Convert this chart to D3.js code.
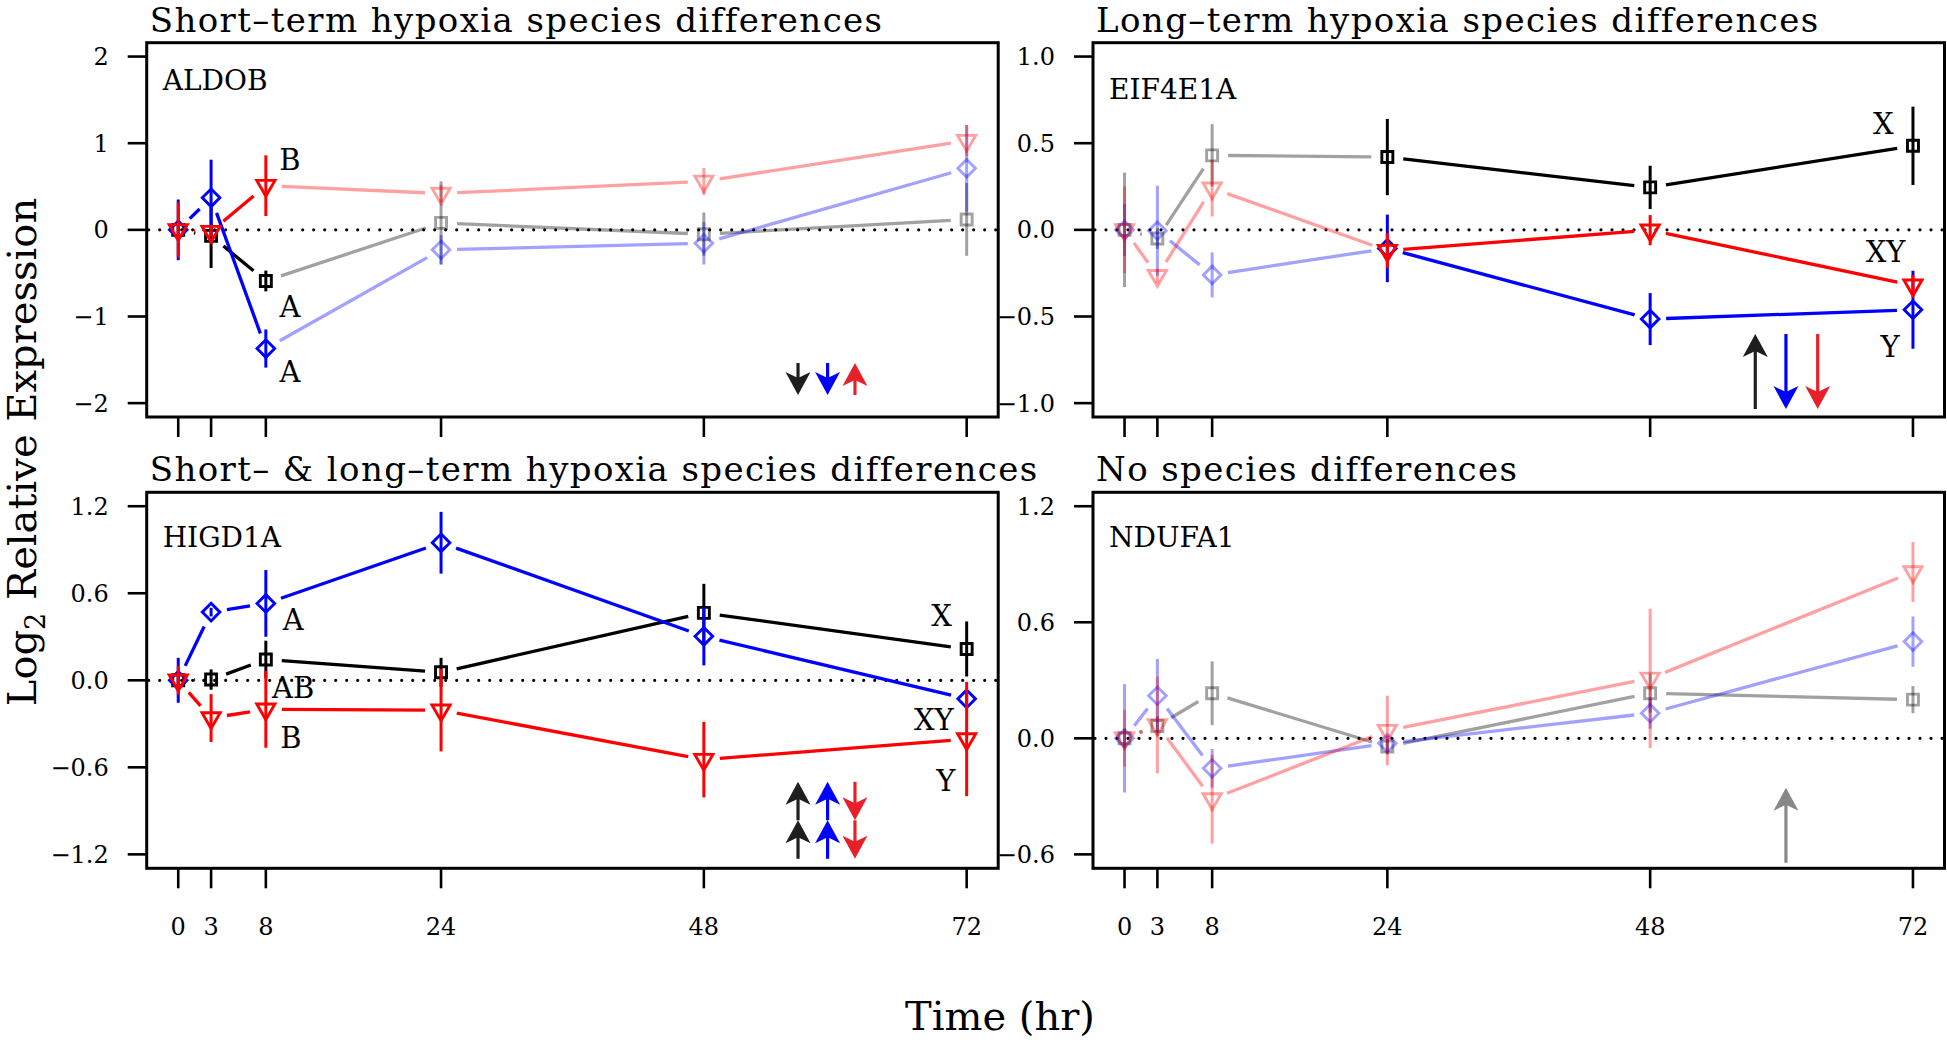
<!DOCTYPE html>
<html>
<head>
<meta charset="utf-8">
<script src="https://cdn.jsdelivr.net/npm/d3@7"></script>
<style>
body { margin: 0; background: #fff; }
svg { display: block; }
text { font-family: "DejaVu Serif", serif; fill: #000; }
</style>
</head>
<body>
<div class="chart"></div>
<script>
var width = 1947, height = 1044

// time points (hr)
var hours = [0, 3, 8, 24, 48, 72]

// series order: black squares, blue diamonds, red triangles
var seriesColor = ["#000000", "#0000ff", "#ff0000"]
var seriesShape = ["square", "diamond", "triangle"]

var titles = [
    "Short\u2013term hypoxia species differences",
    "Long\u2013term hypoxia species differences",
    "Short\u2013 & long\u2013term hypoxia species differences",
    "No species differences"
]
var genes = ["ALDOB", "EIF4E1A", "HIGD1A", "NDUFA1"]

// ALDOB
var aldobMean = [
    [0, -0.07, -0.59, 0.08, -0.05, 0.12],
    [0, 0.37, -1.37, -0.23, -0.155, 0.71],
    [0, -0.02, 0.51, 0.42, 0.56, 1.03]
]
var aldobSE = [
    [0.1, 0.37, 0.12, 0.48, 0.25, 0.42],
    [0.35, 0.44, 0.22, 0.17, 0.245, 0.5],
    [0.32, 0.06, 0.35, 0.1, 0.155, 0.18]
]
var aldobSig = [1, 1, 1, 0, 0, 0]
var aldobTicks = [-2, -1, 0, 1, 2]
var aldobLetters = [["B", 10.2, 0.815], ["A", 10.2, -0.88], ["A", 10.2, -1.64]]
var aldobArrows = [[0, -1, 56.6], [1, -1, 59.3], [2, 1, 61.8]]

// EIF4E1A
var eifMean = [
    [0, -0.05, 0.43, 0.42, 0.245, 0.485],
    [0, -0.005, -0.26, -0.107, -0.515, -0.461],
    [0, -0.265, 0.24, -0.12, -0.002, -0.32]
]
var eifSE = [
    [0.33, 0.06, 0.18, 0.22, 0.125, 0.226],
    [0.15, 0.26, 0.13, 0.195, 0.15, 0.225],
    [0.25, 0.04, 0.163, 0.1, 0.087, 0.06]
]
var eifSig = [0, 0, 0, 1, 1, 1]
var eifTicks = [-1, -0.5, 0, 0.5, 1]
var eifLetters = [["X", 69.3, 0.612], ["XY", 69.5, -0.126], ["Y", 69.9, -0.674]]
var eifArrows = [[0, 1, 57.6], [1, -1, 60.4], [2, -1, 63.3]]

// HIGD1A
var higdMean = [
    [0, 0.005, 0.143, 0.055, 0.465, 0.216],
    [0, 0.47, 0.53, 0.948, 0.303, -0.128],
    [0, -0.26, -0.2, -0.206, -0.547, -0.405]
]
var higdSE = [
    [0.03, 0.07, 0.13, 0.1, 0.2, 0.19],
    [0.155, 0.03, 0.23, 0.213, 0.2, 0.05],
    [0.1, 0.165, 0.265, 0.284, 0.26, 0.394]
]
var higdSig = [1, 1, 1, 1, 1, 1]
var higdTicks = [-1.2, -0.6, 0, 0.6, 1.2]
var higdLetters = [["A", 10.5, 0.42], ["AB", 10.5, -0.047], ["B", 10.3, -0.395],
                   ["X", 69.7, 0.443], ["XY", 69.0, -0.268], ["Y", 70.1, -0.688]]
var higdArrows = [[0, 2, 56.6], [1, 2, 59.3], [2, -2, 61.8]]

// NDUFA1
var ndufaMean = [
    [0, 0.064, 0.233, -0.043, 0.233, 0.2],
    [0, 0.22, -0.155, -0.026, 0.13, 0.5],
    [0, 0.069, -0.314, 0.04, 0.31, 0.86]
]
var ndufaSE = [
    [0.05, 0.05, 0.165, 0.04, 0.1, 0.07],
    [0.28, 0.19, 0.1, 0.04, 0.08, 0.13],
    [0.147, 0.25, 0.23, 0.18, 0.36, 0.155]
]
var ndufaSig = [0, 0, 0, 0, 0, 0]
var ndufaTicks = [-0.6, 0, 0.6, 1.2]
var ndufaLetters = []
var ndufaArrows = [[3, 1, 60.4]]

var arrowColor = ["#1e1e1e", "#0000ff", "#e8202a", "#888888"]

// layout
var colLeft = [146.7, 1093], boxW = 851.5
var rowTop = [42.7, 492.3], boxH = [374.3, 376]
var lightAlpha = 0.37
var gap = 16

var panels = [
    {title: titles[0], gene: genes[0], mean: aldobMean, se: aldobSE, sig: aldobSig, ticks: aldobTicks,
     fmt: d3.format("d"), letters: aldobLetters, arrows: aldobArrows, col: 0, row: 0,
     geneDy: 47.5, arrowLen: 32, heads: 1, arrowDy: 38},
    {title: titles[1], gene: genes[1], mean: eifMean, se: eifSE, sig: eifSig, ticks: eifTicks,
     fmt: d3.format(".1f"), letters: eifLetters, arrows: eifArrows, col: 1, row: 0,
     geneDy: 56, arrowLen: 75, heads: 1, arrowDy: 45.5},
    {title: titles[2], gene: genes[2], mean: higdMean, se: higdSE, sig: higdSig, ticks: higdTicks,
     fmt: d3.format(".1f"), letters: higdLetters, arrows: higdArrows, col: 0, row: 1,
     geneDy: 54.5, arrowLen: 77, heads: 2, arrowDy: 48},
    {title: titles[3], gene: genes[3], mean: ndufaMean, se: ndufaSE, sig: ndufaSig, ticks: ndufaTicks,
     fmt: d3.format(".1f"), letters: ndufaLetters, arrows: ndufaArrows, col: 1, row: 1,
     geneDy: 54.5, arrowLen: 75, heads: 1, arrowDy: 43}
]

var svg = d3.select('.chart')
    .append('svg')
    .attr("width", width)
    .attr("height", height)

function markerPath(shape){
    if (shape == "square") return "M-5.5,-5.5H5.5V5.5H-5.5Z"
    if (shape == "diamond") return "M0,-8.8L8.8,0L0,8.8L-8.8,0Z"
    var r = 10.5
    return "M0," + r + "L" + (r * 0.866) + "," + (-r / 2) + "L" + (-r * 0.866) + "," + (-r / 2) + "Z"
}

function drawArrow(g, x, yTail, yTip, color){
    var s = yTip > yTail ? 1 : -1
    g.append("line")
        .attr("x1", x).attr("x2", x)
        .attr("y1", yTail).attr("y2", yTip - s * 14)
        .attr("stroke", color)
        .attr("stroke-width", 3.2)
    g.append("path")
        .attr("d", "M" + x + "," + yTip +
                   "L" + (x - 12.5) + "," + (yTip - s * 23) +
                   "L" + x + "," + (yTip - s * 17) +
                   "L" + (x + 12.5) + "," + (yTip - s * 23) + "Z")
        .attr("fill", color)
}

panels.forEach(function(p){
    var left = colLeft[p.col], top = rowTop[p.row], h = boxH[p.row]
    var bottom = top + h
    var lo = d3.min(p.ticks), hi = d3.max(p.ticks)
    var ypad = (hi - lo) * 0.04
    var x = d3.scaleLinear().domain([-72 * 0.04, 72 * 1.04]).range([left, left + boxW])
    var y = d3.scaleLinear().domain([lo - ypad, hi + ypad]).range([bottom, top])
    var g = svg.append('g')

    // title
    g.append("text")
        .attr("x", left + 3)
        .attr("y", top - 11)
        .attr("font-size", 34)
        .attr("letter-spacing", 1.4)
        .text(p.title)

    // y axis
    var yAxis = g.append("g")
    yAxis.selectAll("line")
        .data(p.ticks)
        .enter()
        .append("line")
        .attr("x1", left - 19).attr("x2", left)
        .attr("y1", function(d){ return y(d) })
        .attr("y2", function(d){ return y(d) })
        .attr("stroke", "#000")
        .attr("stroke-width", 2.6)
    yAxis.selectAll("text")
        .data(p.ticks)
        .enter()
        .append("text")
        .attr("x", left - 38)
        .attr("y", function(d){ return y(d) })
        .attr("dy", "0.36em")
        .attr("text-anchor", "end")
        .attr("font-size", 24)
        .text(function(d){ return p.fmt(d) })

    // x axis
    var xAxis = g.append("g")
    xAxis.selectAll("line")
        .data(hours)
        .enter()
        .append("line")
        .attr("x1", function(d){ return x(d) })
        .attr("x2", function(d){ return x(d) })
        .attr("y1", bottom).attr("y2", bottom + 20)
        .attr("stroke", "#000")
        .attr("stroke-width", 2.6)
    if (p.row == 1){
        xAxis.selectAll("text")
            .data(hours)
            .enter()
            .append("text")
            .attr("x", function(d){ return x(d) })
            .attr("y", bottom + 67)
            .attr("text-anchor", "middle")
            .attr("font-size", 24)
            .text(function(d){ return d })
    }

    // dotted zero line
    g.append("line")
        .attr("x1", left + 2).attr("x2", left + boxW - 2)
        .attr("y1", y(0)).attr("y2", y(0))
        .attr("stroke", "#000")
        .attr("stroke-width", 3.2)
        .attr("stroke-linecap", "round")
        .attr("stroke-dasharray", "0 11")

    // series
    p.mean.forEach(function(m, si){
        var color = seriesColor[si]
        var pts = hours.map(function(t, i){
            return {t: t, v: m[i], se: p.se[si][i], sig: p.sig[i]}
        })
        var sg = g.append("g")

        // connecting lines with gaps around points
        var segs = d3.pairs(pts).map(function(pr){
            var x1 = x(pr[0].t), y1 = y(pr[0].v), x2 = x(pr[1].t), y2 = y(pr[1].v)
            var len = Math.sqrt((x2 - x1) * (x2 - x1) + (y2 - y1) * (y2 - y1))
            var ux = (x2 - x1) / len, uy = (y2 - y1) / len
            return {x1: x1 + ux * gap, y1: y1 + uy * gap, x2: x2 - ux * gap, y2: y2 - uy * gap,
                    ok: len > 2 * gap, sig: pr[0].sig && pr[1].sig}
        }).filter(function(d){ return d.ok })

        sg.selectAll("line.seg")
            .data(segs)
            .enter()
            .append("line")
            .attr("class", "seg")
            .attr("x1", function(d){ return d.x1 })
            .attr("y1", function(d){ return d.y1 })
            .attr("x2", function(d){ return d.x2 })
            .attr("y2", function(d){ return d.y2 })
            .attr("stroke", color)
            .attr("stroke-opacity", function(d){ return d.sig ? 1 : lightAlpha })
            .attr("stroke-width", 3.3)

        // error bars
        sg.selectAll("line.err")
            .data(pts)
            .enter()
            .append("line")
            .attr("class", "err")
            .attr("x1", function(d){ return x(d.t) })
            .attr("x2", function(d){ return x(d.t) })
            .attr("y1", function(d){ return y(d.v - d.se) })
            .attr("y2", function(d){ return y(d.v + d.se) })
            .attr("stroke", color)
            .attr("stroke-opacity", function(d){ return d.sig ? 1 : lightAlpha })
            .attr("stroke-width", 3)

        // markers
        sg.selectAll("path.pt")
            .data(pts)
            .enter()
            .append("path")
            .attr("class", "pt")
            .attr("d", markerPath(seriesShape[si]))
            .attr("transform", function(d){ return "translate(" + x(d.t) + "," + y(d.v) + ")" })
            .attr("fill", "none")
            .attr("stroke", color)
            .attr("stroke-opacity", function(d){ return d.sig ? 1 : lightAlpha })
            .attr("stroke-width", 2.9)
    })

    // group letters
    g.selectAll("text.letter")
        .data(p.letters)
        .enter()
        .append("text")
        .attr("class", "letter")
        .attr("x", function(d){ return x(d[1]) })
        .attr("y", function(d){ return y(d[2]) })
        .attr("dy", "0.36em")
        .attr("text-anchor", "middle")
        .attr("font-size", 29)
        .text(function(d){ return d[0] })

    // gene name
    g.append("text")
        .attr("x", left + 16)
        .attr("y", top + p.geneDy)
        .attr("font-size", 28)
        .text(p.gene)

    // change arrows
    var cy = bottom - p.arrowDy
    p.arrows.forEach(function(a){
        var ax = x(a[2]), col = arrowColor[a[0]]
        var dir = a[1] > 0 ? -1 : 1
        var n = p.heads, step = p.arrowLen / n
        var start = cy - dir * p.arrowLen / 2
        for (var k = 0; k < n; k++){
            var tail = start + dir * step * k
            drawArrow(g, ax, tail, tail + dir * step, col)
        }
    })

    // box
    g.append("rect")
        .attr("x", left).attr("y", top)
        .attr("width", boxW).attr("height", h)
        .attr("fill", "none")
        .attr("stroke", "#000")
        .attr("stroke-width", 3)
})

// axis titles
var ylab = svg.append("text")
    .attr("transform", "translate(36,452) rotate(-90)")
    .attr("text-anchor", "middle")
    .attr("font-size", 40)
ylab.append("tspan").text("Log")
ylab.append("tspan").attr("font-size", 27).attr("dy", 9).text("2")
ylab.append("tspan").attr("dy", -9).text(" Relative Expression")

svg.append("text")
    .attr("x", 1000)
    .attr("y", 1030)
    .attr("text-anchor", "middle")
    .attr("font-size", 40)
    .text("Time (hr)")
</script>
</body>
</html>
